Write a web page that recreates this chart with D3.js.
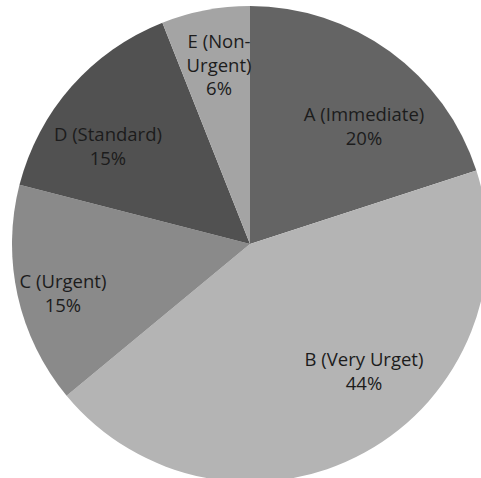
<!DOCTYPE html>
<html>
<head>
<meta charset="utf-8">
<script src="https://cdn.jsdelivr.net/npm/d3@7"></script>
<style>
  html, body { margin: 0; padding: 0; background: #fff; }
  svg { display: block; }
</style>
</head>
<body>
<div id="chart"></div>
<script>
// Triage categories and their share of patients (percent)
const categories = ["A (Immediate)", "B (Very Urget)", "C (Urgent)", "D (Standard)", "E (Non-Urgent)"];
const values = [20, 44, 15, 15, 6];
const colors = ["#646464", "#b4b4b4", "#8a8a8a", "#515151", "#a4a4a4"];
// Label text split into lines for wrapping inside narrow slices
const labelLines = [
  ["A (Immediate)"],
  ["B (Very Urget)"],
  ["C (Urgent)"],
  ["D (Standard)"],
  ["E (Non-", "Urgent)"]
];
// Label block centres, as fractions of the radius relative to the pie centre
const labelAnchors = [
  [0.479, -0.494],
  [0.479, 0.534],
  [-0.786, 0.210],
  [-0.597, -0.408],
  [-0.130, -0.752]
];

const width = 481, height = 478;
const cx = 250, cy = 244, radius = 238;

const svg = d3.select("#chart").append("svg")
  .attr("width", width).attr("height", height);

const g = svg.append("g").attr("transform", `translate(${cx},${cy})`);

const data = categories.map((c, i) => ({ name: c, value: values[i], color: colors[i], lines: labelLines[i], anchor: labelAnchors[i] }));

const pie = d3.pie().value(d => d.value).sort(null);
const arc = d3.arc().innerRadius(0).outerRadius(radius);

const arcs = pie(data);

g.selectAll("path.slice")
  .data(arcs)
  .join("path")
  .attr("class", "slice")
  .attr("d", arc)
  .attr("fill", d => d.data.color);

const lineH = 24;
const labels = g.selectAll("text.label")
  .data(arcs)
  .join("text")
  .attr("class", "label")
  .attr("text-anchor", "middle")
  .attr("font-family", "'Open Sans', 'Noto Sans', sans-serif")
  .attr("font-size", 18.5)
  .attr("fill", "#1c1c1c")
  .attr("transform", d => `translate(${d.data.anchor[0] * radius},${d.data.anchor[1] * radius})`);

labels.each(function(d) {
  const lines = d.data.lines.concat([d3.format("d")(d.data.value) + "%"]);
  const t = d3.select(this);
  const startY = -((lines.length - 1) * lineH) / 2;
  lines.forEach((ln, i) => {
    t.append("tspan")
      .attr("x", 0)
      .attr("y", startY + i * lineH)
      .attr("dy", "0.35em")
      .text(ln);
  });
});
</script>
</body>
</html>
